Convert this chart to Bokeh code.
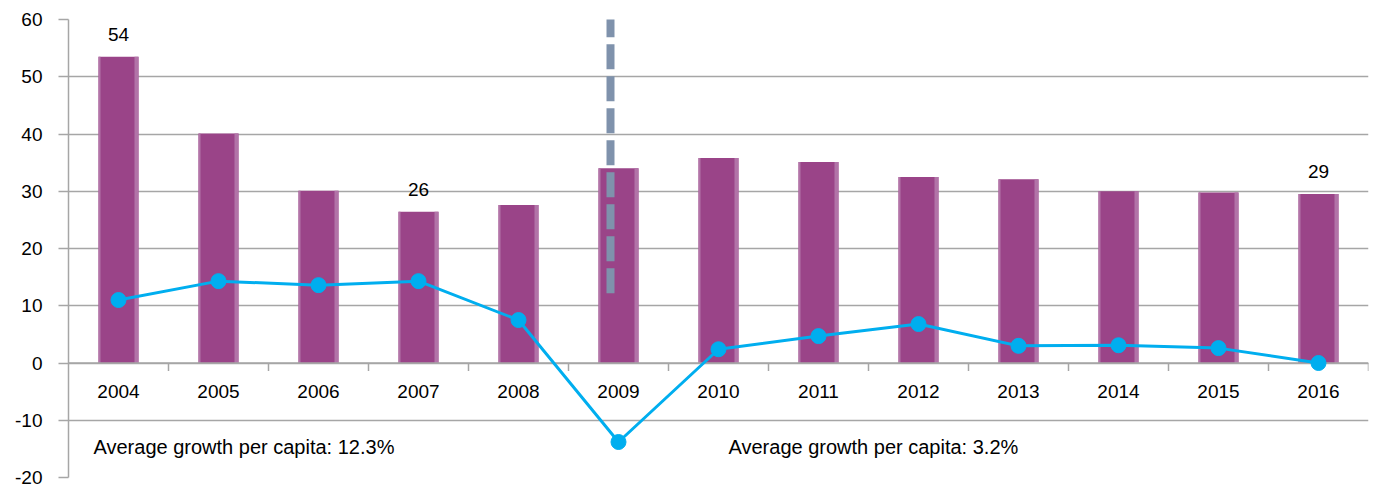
from bokeh.plotting import figure
from bokeh.models import Range1d, FixedTicker, ColumnDataSource
from bokeh.core.properties import value
from bokeh.embed import file_html
from bokeh.resources import INLINE

years = [2004, 2005, 2006, 2007, 2008, 2009, 2010, 2011, 2012, 2013, 2014, 2015, 2016]
year_labels = [str(y) for y in years]
bar_values = [53.5, 40.1, 30.1, 26.4, 27.6, 34.0, 35.8, 35.1, 32.5, 32.1, 30.0, 29.8, 29.5]
growth_values = [11.0, 14.3, 13.6, 14.3, 7.5, -13.8, 2.4, 4.7, 6.8, 3.0, 3.1, 2.6, 0.0]
label_years = [2004, 2007, 2016]
label_texts = ["54", "26", "29"]
label_values = [53.5, 26.4, 29.5]
notes = ["Average growth per capita: 12.3%", "Average growth per capita: 3.2%"]
note_x = [2003.75, 2010.1]
note_y = [-14.7, -14.7]
divider_x = 2008.92
divider_y = [12.2, 60.5]
y_ticks = [-20, -10, 0, 10, 20, 30, 40, 50, 60]

FONT = "Liberation Sans"
GRID = "#A6A6A6"
BAR = "#9A4488"
BAR_EDGE = "#B274A8"
LINE = "#00AEEF"

p = figure(width=1370, height=488, output_backend="svg", toolbar_location=None,
           x_range=Range1d(2003.5, 2016.5), y_range=Range1d(-20, 60),
           min_border_left=68, min_border_right=2, min_border_top=19, min_border_bottom=11)
p.outline_line_color = None
p.xaxis.visible = False
p.xgrid.visible = False
p.ygrid.grid_line_color = GRID
p.ygrid.grid_line_width = 1.5
p.yaxis.ticker = FixedTicker(ticks=y_ticks)
p.yaxis.major_label_overrides = {t: str(t) for t in y_ticks}
p.yaxis.axis_line_color = GRID
p.yaxis.axis_line_width = 1.5
p.yaxis.major_tick_line_color = GRID
p.yaxis.major_tick_line_width = 1.5
p.yaxis.major_tick_out = 10
p.yaxis.major_tick_in = 0
p.yaxis.minor_tick_line_color = None
p.yaxis.major_label_standoff = 16
p.yaxis.major_label_text_font = FONT
p.yaxis.major_label_text_font_size = "19px"
p.yaxis.major_label_text_color = "#000000"

src = ColumnDataSource(dict(x=years, top=bar_values, g=growth_values, lab=year_labels))

# bars with lighter edges
p.vbar(x="x", top="top", bottom=0, width=0.4, source=src, fill_color=BAR, line_color=None)
right_x = [y + 0.2 - 0.02 for y in years]
left_x = [y - 0.2 + 0.01 for y in years]
p.vbar(x=right_x, top=bar_values, bottom=0, width=0.04, fill_color=BAR_EDGE, line_color=None)
p.vbar(x=left_x, top=bar_values, bottom=0, width=0.02, fill_color=BAR_EDGE, line_color=None)

# zero line and ticks at category boundaries
p.segment(x0=[2003.5], y0=[0], x1=[2016.5], y1=[0], line_color=GRID, line_width=1.5)
bounds = [y + 0.5 for y in years]
p.segment(x0=bounds, y0=[0] * len(bounds), x1=bounds, y1=[-1.4] * len(bounds),
          line_color=GRID, line_width=1.5)

# category labels
p.text(x="x", y=-4.9, text="lab", source=src, text_font=value(FONT), text_font_size="19px",
       text_align="center", text_baseline="middle", text_color="#000000")

# divider
p.line(x=[divider_x, divider_x], y=divider_y, line_color="#7F92AC", line_width=8, line_dash="25 7")

# growth line
p.line(x="x", y="g", source=src, line_color=LINE, line_width=3)
p.scatter(x="x", y="g", source=src, size=15, fill_color=LINE, line_color=LINE)

# data labels
p.text(x=label_years, y=label_values, text=label_texts, text_font=value(FONT), text_font_size="19px",
       text_align="center", text_baseline="bottom", y_offset=-16, text_color="#000000")

# notes
p.text(x=note_x, y=note_y, text=notes, text_font=value(FONT), text_font_size="20px",
       text_align="left", text_baseline="middle", text_color="#000000")

open("out.html", "w").write(file_html(p, INLINE))
